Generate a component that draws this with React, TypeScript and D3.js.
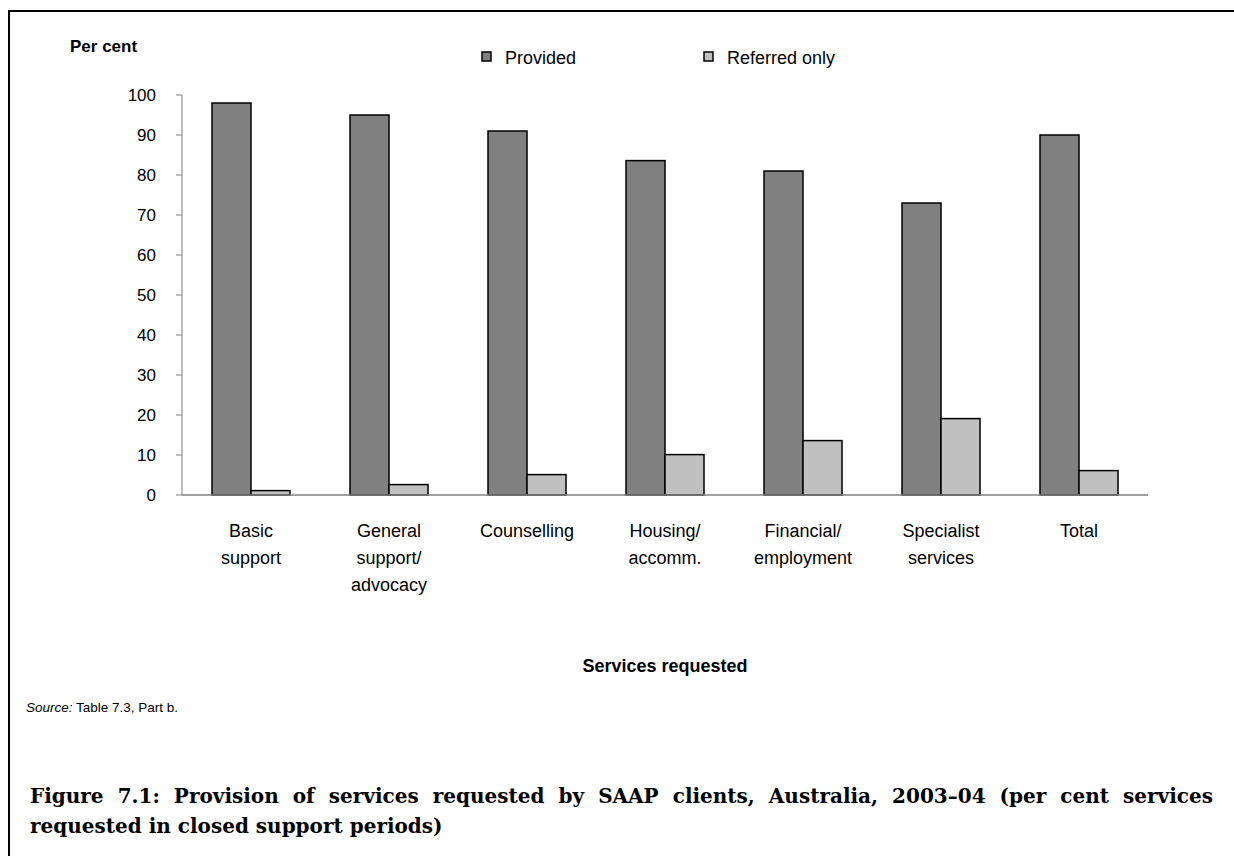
import React, { useLayoutEffect, useRef } from "react";
import * as d3 from "d3";

const categories: string[][] = [
  ["Basic", "support"],
  ["General", "support/", "advocacy"],
  ["Counselling"],
  ["Housing/", "accomm."],
  ["Financial/", "employment"],
  ["Specialist", "services"],
  ["Total"],
];
const seriesNames = ["Provided", "Referred only"];
const provided = [98, 95, 91, 83.6, 81, 73, 90];
const referredOnly = [1.1, 2.6, 5.1, 10.1, 13.6, 19.1, 6.1];
const yTicks = [0, 10, 20, 30, 40, 50, 60, 70, 80, 90, 100];
const colors = ["#808080", "#c0c0c0"];
const captionLine1 = "Figure 7.1: Provision of services requested by SAAP clients, Australia, 2003–04 (per cent services";
const captionLine2 = "requested in closed support periods)";

const W = 1234;
const H = 856;
const plotLeft = 182;
const plotRight = 1148;
const plotTop = 95;
const plotBottom = 495;

export default function App() {
  const capRef = useRef<SVGTextElement>(null);
  useLayoutEffect(() => {
    const el = capRef.current;
    if (!el) return;
    el.setAttribute("word-spacing", "0");
    const len = el.getComputedTextLength();
    const spaces = (captionLine1.match(/ /g) || []).length;
    const target = 1213 - 30;
    if (len < target && spaces > 0) el.setAttribute("word-spacing", String((target - len) / spaces));
  }, []);

  const keys = categories.map((c) => c.join(" "));
  const x = d3.scaleBand<string>().domain(keys).range([plotLeft, plotRight]).paddingInner(0).paddingOuter(0);
  const y = d3.scaleLinear().domain([0, 100]).range([plotBottom, plotTop]);
  const bw = x.bandwidth();
  const inner = d3.scaleBand<string>().domain(seriesNames).range([30, bw - 30]);
  const series = [provided, referredOnly];
  const font = "Arial, 'Liberation Sans', sans-serif";
  const serif = "'DejaVu Serif', serif";

  return (
    <svg width={W} height={H} style={{ position: "absolute", left: 0, top: 0, background: "#fff" }}>
      <rect x={9} y={11} width={1300} height={1000} fill="#fff" stroke="#000" strokeWidth={2} />
      <text x={70} y={52} fontFamily={font} fontWeight="bold" fontSize={17}>Per cent</text>

      {seriesNames.map((s, i) => {
        const lx = i === 0 ? 482 : 704;
        return (
          <g key={s}>
            <rect x={lx} y={52} width={9} height={9} fill={colors[i]} stroke="#000" strokeWidth={1.5} />
            <text x={lx + 23} y={63.5} fontFamily={font} fontSize={18}>{s}</text>
          </g>
        );
      })}

      <line x1={plotLeft} x2={plotLeft} y1={plotTop} y2={plotBottom} stroke="#808080" strokeWidth={1} />
      {yTicks.map((t) => (
        <g key={t}>
          <line x1={plotLeft - 6} x2={plotLeft} y1={y(t)} y2={y(t)} stroke="#808080" strokeWidth={1} />
          <text x={plotLeft - 26} y={y(t) + 6} textAnchor="end" fontFamily={font} fontSize={17}>{t}</text>
        </g>
      ))}

      {categories.map((c, ci) =>
        series.map((vals, si) => (
          <rect
            key={ci + "-" + si}
            x={(x(keys[ci]) as number) + (inner(seriesNames[si]) as number)}
            y={y(vals[ci])}
            width={inner.bandwidth()}
            height={plotBottom - y(vals[ci])}
            fill={colors[si]}
            stroke="#000"
            strokeWidth={1.5}
          />
        ))
      )}

      <line x1={plotLeft} x2={plotRight} y1={plotBottom} y2={plotBottom} stroke="#808080" strokeWidth={1.5} />

      {categories.map((c, ci) => (
        <text key={ci} x={(x(keys[ci]) as number) + bw / 2} y={537} textAnchor="middle" fontFamily={font} fontSize={18}>
          {c.map((line, li) => (
            <tspan key={li} x={(x(keys[ci]) as number) + bw / 2} dy={li === 0 ? 0 : 27}>{line}</tspan>
          ))}
        </text>
      ))}

      <text x={(plotLeft + plotRight) / 2} y={672} textAnchor="middle" fontFamily={font} fontWeight="bold" fontSize={18}>
        Services requested
      </text>

      <text x={26} y={712} fontFamily={font} fontSize={13.5}>
        <tspan fontStyle="italic">Source:</tspan> Table 7.3, Part b.
      </text>

      <text ref={capRef} x={30} y={803} fontFamily={serif} fontWeight="bold" fontSize={20}>
        {captionLine1}
      </text>
      <text x={30} y={833} fontFamily={serif} fontWeight="bold" fontSize={20}>
        {captionLine2}
      </text>
    </svg>
  );
}
